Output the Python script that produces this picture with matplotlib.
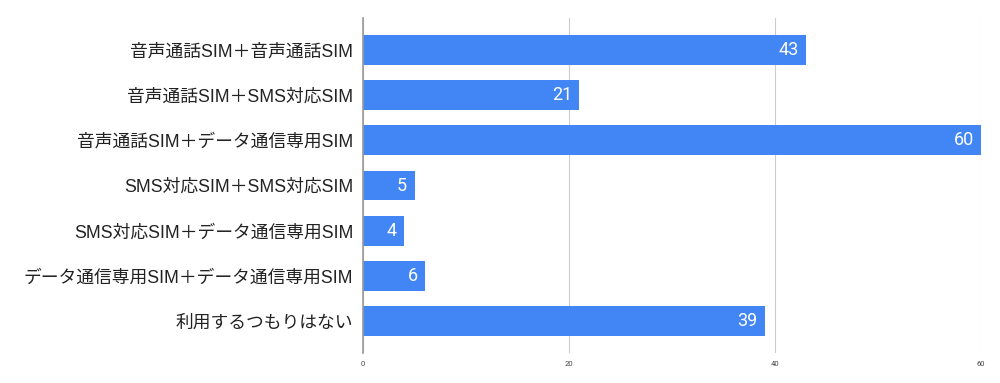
import matplotlib
matplotlib.use("Agg")
import matplotlib.pyplot as plt

plt.rcParams['font.family'] = ['Liberation Sans', 'Noto Sans CJK JP', 'DejaVu Sans']

categories = [
    "音声通話SIM＋音声通話SIM",
    "音声通話SIM＋SMS対応SIM",
    "音声通話SIM＋データ通信専用SIM",
    "SMS対応SIM＋SMS対応SIM",
    "SMS対応SIM＋データ通信専用SIM",
    "データ通信専用SIM＋データ通信専用SIM",
    "利用するつもりはない",
]
values = [43, 21, 60, 5, 4, 6, 39]
xticks = [0, 20, 40, 60]

fig = plt.figure(figsize=(10, 3.83), dpi=100)
ax = fig.add_axes([0.363, 0.078, 0.618, 0.875])

y = list(range(len(categories)))
ax.barh(y, values, height=0.66, color="#4285f4", zorder=3)
ax.set_ylim(len(categories) - 1 + 0.706, -0.706)
ax.set_xlim(0, 60)
ax.set_yticks(y)
ax.set_yticklabels(categories, fontsize=12.8, color="#222222")
ax.set_xticks(xticks)
ax.set_xticklabels([str(t) for t in xticks], fontsize=5.5, color="#444444", family="Roboto")
ax.tick_params(axis='both', length=0)
ax.tick_params(axis='y', pad=7)
ax.tick_params(axis='x', pad=6)
ax.grid(axis='x', color="#cccccc", linewidth=0.8, zorder=0)
for s in ['top', 'right', 'bottom']:
    ax.spines[s].set_visible(False)
ax.spines['left'].set_color("#999999")
ax.spines['left'].set_linewidth(1.2)
ax.spines['left'].set_zorder(4)

for yi, v in zip(y, values):
    ax.text(v - 0.7, yi, str(v), ha='right', va='center', color='white',
            fontsize=13, family="Roboto", zorder=5)

fig.savefig("out.png", dpi=100)
